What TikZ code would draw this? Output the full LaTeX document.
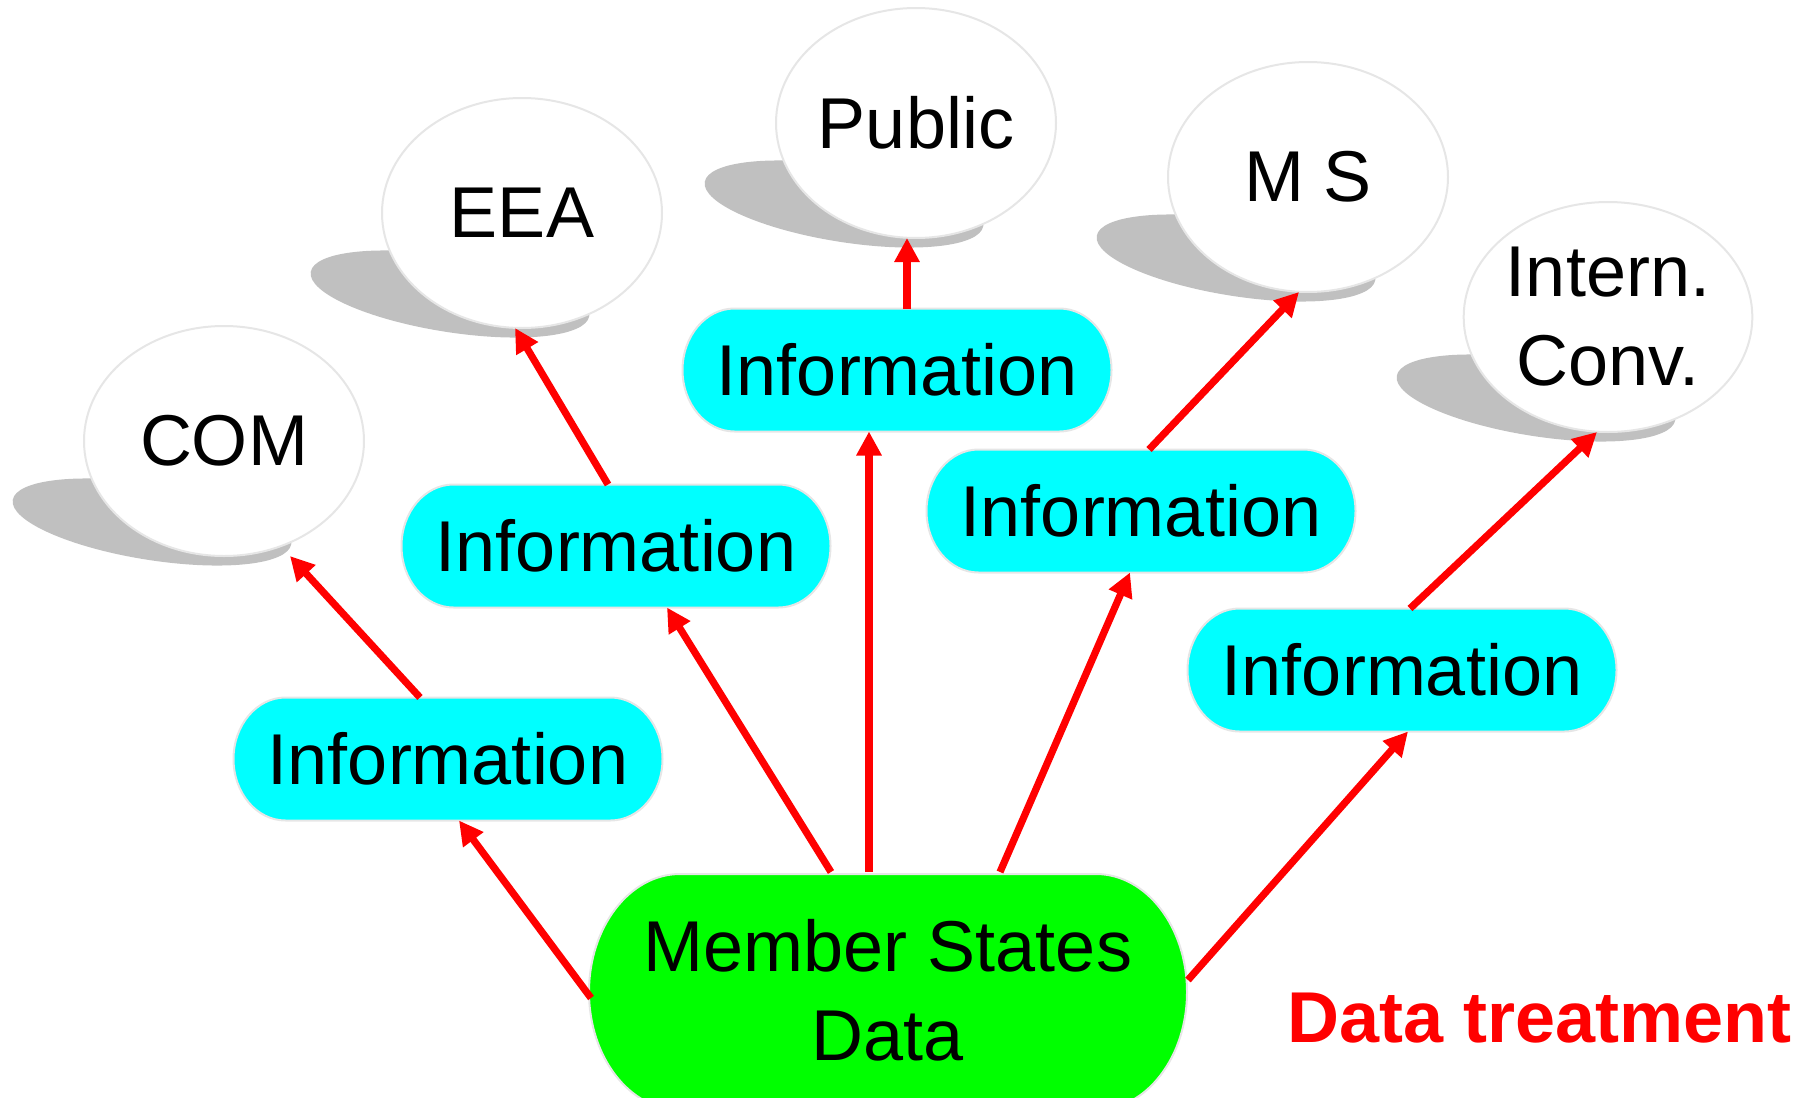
\documentclass[tikz,border=0pt]{standalone}
\usepackage{fontspec}
\setmainfont{Liberation Sans}
\usetikzlibrary{arrows.meta,calc,shapes.geometric,backgrounds}
\definecolor{shadowc}{HTML}{C0C0C0}
\definecolor{edgec}{HTML}{E6E6E6}
\definecolor{infoc}{HTML}{00FFFF}
\definecolor{msc}{HTML}{00FF00}
\definecolor{arrc}{HTML}{FF0000}
% capsule with elliptical ends: style, x, y, half width, half height, end x radius
\newcommand\capsule[6]{%
  \path[#1] ({#2-#4+#6},{#3+#5}) -- ({#2+#4-#6},{#3+#5})
    arc[start angle=90,end angle=-90,x radius=#6,y radius=#5]
    -- ({#2-#4+#6},{#3-#5})
    arc[start angle=270,end angle=90,x radius=#6,y radius=#5] -- cycle;}
\newcommand\shadowof[1]{%
  \fill[shadowc, shift={(#1.center)}, rotate around={-9:(-72,-81)}]
    (-72,-81) ellipse [x radius=141, y radius=38];}
\begin{document}
\begin{tikzpicture}[x=0.5pt,y=0.5pt,
  lbl/.style={font=\fontsize{36}{44.5}\selectfont, align=center},
  dest/.style={lbl, ellipse, draw=edgec, line width=1pt, fill=white,
    minimum width=140pt, minimum height=115pt, inner sep=0pt, outer sep=0pt},
  infonode/.style={lbl, rectangle, minimum width=214.5pt, minimum height=61.5pt,
    inner sep=0pt, outer sep=0pt},
  infoshape/.style={fill=infoc, draw=edgec, line width=1pt},
  msshape/.style={fill=msc, draw=edgec, line width=1pt},
  flowarrow/.style={draw=arrc, line width=3.6pt, -{Triangle[length=12pt,width=12pt]}}]
\useasboundingbox (0,0) rectangle (1798,-1097);

% destination ellipses
\node[dest] (com) at (224,-441) {COM};
\node[dest] (eea) at (522,-213) {EEA};
\node[dest] (pub) at (916,-123) {Public};
\node[dest] (ms)  at (1308,-177) {M S};
\node[dest] (ic)  at (1608,-317) {Intern.\\Conv.};
\begin{scope}[on background layer]
  \shadowof{com}\shadowof{eea}\shadowof{pub}\shadowof{ms}\shadowof{ic}
\end{scope}

% information boxes
\capsule{infoshape}{448}{-759}{214.5}{61.5}{52}
\capsule{infoshape}{616}{-546}{214.5}{61.5}{52}
\capsule{infoshape}{897}{-370}{214.5}{61.5}{52}
\capsule{infoshape}{1141}{-511}{214.5}{61.5}{52}
\capsule{infoshape}{1402}{-670}{214.5}{61.5}{52}
\node[infonode] (i1) at (448,-759) {Information};
\node[infonode] (i2) at (616,-546) {Information};
\node[infonode] (i3) at (897,-370) {Information};
\node[infonode] (i4) at (1141,-511) {Information};
\node[infonode] (i5) at (1402,-670) {Information};

% member states data
\capsule{msshape}{888}{-992}{299}{118}{91}
\node[lbl, rectangle, minimum width=299pt, minimum height=118pt, inner sep=0pt, outer sep=0pt]
  (msd) at (888,-990) {Member States\\Data};

\node[font=\fontsize{36}{44.5}\selectfont\bfseries, text=arrc, anchor=base, inner sep=0pt]
  (dt) at (1540,-1042) {Data treatment};

% arrows from data to information
\draw[flowarrow] ($(msd.west)+(2,-8)$) -- ($(i1.south)+(11,0)$);
\draw[flowarrow] ($(msd.north)+(-57,0)$) -- ($(i2.south)+(51,0)$);
\draw[flowarrow] ($(msd.north)+(-19,0)$) -- ($(i3.south)+(-28,0)$);
\draw[flowarrow] ($(msd.north)+(112,0)$) -- ($(i4.south)+(-11,0)$);
\draw[flowarrow] ($(msd.east)+(1,10)$) -- ($(i5.south)+(6,0)$);

% arrows from information to destinations
\draw[flowarrow] ($(i1.north)+(-28,0)$) -- ($(com.south)+(66,0)$);
\draw[flowarrow] ($(i2.north)+(-8,0)$) -- ($(eea.south)+(-7,0)$);
\draw[flowarrow] ($(i3.north)+(10,0)$) -- ($(pub.south)+(-9,0)$);
\draw[flowarrow] ($(i4.north)+(8,0)$) -- ($(ms.south)+(-9,0)$);
\draw[flowarrow] ($(i5.north)+(8,0)$) -- ($(ic.south)+(-11,0)$);
\end{tikzpicture}
\end{document}
